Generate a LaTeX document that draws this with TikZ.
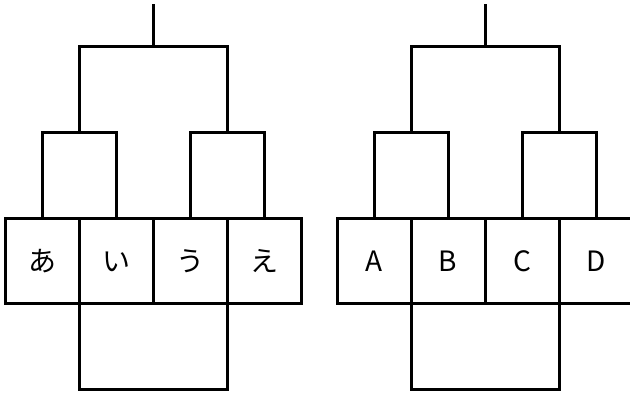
\documentclass[tikz,border=0pt]{standalone}
\usepackage{fontspec}
\setmainfont{Noto Sans CJK JP}
\usetikzlibrary{positioning}
\begin{document}
\begin{tikzpicture}[x=1pt,y=1pt,line width=3pt,
  cellbox/.style={draw,minimum width=74pt,minimum height=85pt,inner sep=0pt,outer sep=0pt,font=\fontsize{28}{32}\selectfont},
  finalbox/.style={draw,minimum width=148pt,minimum height=86pt,inner sep=0pt,outer sep=0pt}]
\useasboundingbox (0,0) rectangle (630,394);
\foreach \o/\n/\la/\lb/\lc/\ld in {0/L/あ/い/う/え,332/R/A/B/C/D}{
\node[cellbox] (\n1) at (42+\o,132.5) {\la};
\node[cellbox,right=0pt of \n1] (\n2) {\lb};
\node[cellbox,right=0pt of \n2] (\n3) {\lc};
\node[cellbox,right=0pt of \n3] (\n4) {\ld};
\node[finalbox,anchor=north] (\n5) at (\n2.south east) {};
\coordinate[above=86pt of \n1.north east] (\n12);
\coordinate[above=86pt of \n3.north east] (\n34);
\coordinate[above=172pt of \n2.north east] (\n0);
\coordinate[above=43pt of \n0] (\n9);
\draw (\n1.north) |- (\n12) -| (\n2.north);
\draw (\n3.north) |- (\n34) -| (\n4.north);
\draw (\n12) |- (\n0) -| (\n34);
\draw (\n0) -- (\n9);
}
\end{tikzpicture}
\end{document}
